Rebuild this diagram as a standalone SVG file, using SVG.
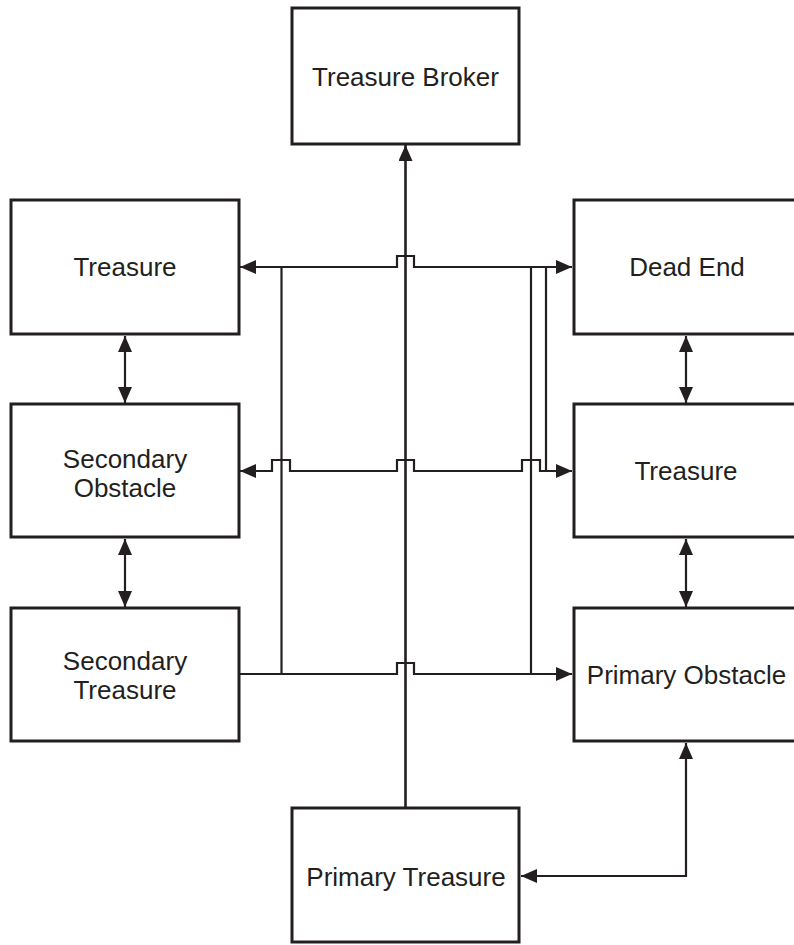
<svg xmlns="http://www.w3.org/2000/svg" width="794" height="945" viewBox="0 0 794 945">
<style>
.box{fill:#fff;stroke:#231f20;stroke-width:3}
.t{font-family:"Liberation Sans",Arial,sans-serif;font-size:26px;fill:#231f20;text-anchor:middle}
.c{fill:none;stroke:#231f20;stroke-width:2.2}
.m{fill:none;stroke:#231f20;stroke-width:2.6}
</style>
<defs>
<marker id="ah" viewBox="0 0 16 14" refX="16" refY="7" markerWidth="16" markerHeight="14" markerUnits="userSpaceOnUse" orient="auto-start-reverse">
<path d="M0,0 L16,7 L0,14 z" fill="#231f20"/>
</marker>
</defs>
<rect width="794" height="945" fill="#fff"/>
<g id="connectors">
<path class="m" d="M405.5,808 V145" marker-end="url(#ah)"/>
<path class="c" d="M240,267 H397 V256 H414 V267 H572" marker-start="url(#ah)" marker-end="url(#ah)"/>
<path class="c" d="M240,471 H272 V460 H290 V471 H397 V460 H414 V471 H522 V460 H540 V471 H572" marker-start="url(#ah)" marker-end="url(#ah)"/>
<path class="c" d="M240,674 H397 V663 H414 V674 H572" marker-end="url(#ah)"/>
<path class="c" d="M281.5,267 V674"/>
<path class="c" d="M531,267 V674"/>
<path class="c" d="M546,267 V471"/>
<path class="c" d="M125,336 V403" marker-start="url(#ah)" marker-end="url(#ah)"/>
<path class="c" d="M125,539 V607" marker-start="url(#ah)" marker-end="url(#ah)"/>
<path class="c" d="M686,336 V403" marker-start="url(#ah)" marker-end="url(#ah)"/>
<path class="c" d="M686,539 V607" marker-start="url(#ah)" marker-end="url(#ah)"/>
<path class="c" d="M686,743 V876 H521" marker-start="url(#ah)" marker-end="url(#ah)"/>
</g>
<g id="treasure-broker"><rect class="box" x="292" y="8" width="227" height="136"/><text class="t" x="405.5" y="86">Treasure Broker</text></g>
<g id="treasure-left"><rect class="box" x="11" y="200" width="228" height="134"/><text class="t" x="125" y="276">Treasure</text></g>
<g id="secondary-obstacle"><rect class="box" x="11" y="404" width="228" height="133"/><text class="t" x="125" y="468">Secondary</text><text class="t" x="125" y="497">Obstacle</text></g>
<g id="secondary-treasure"><rect class="box" x="11" y="608" width="228" height="133"/><text class="t" x="125" y="670">Secondary</text><text class="t" x="125" y="699">Treasure</text></g>
<g id="dead-end"><rect class="box" x="574" y="200" width="240" height="134"/><text class="t" x="687" y="276">Dead End</text></g>
<g id="treasure-right"><rect class="box" x="574" y="404" width="240" height="133"/><text class="t" x="686" y="480">Treasure</text></g>
<g id="primary-obstacle"><rect class="box" x="574" y="608" width="240" height="133"/><text class="t" x="686.5" y="684">Primary Obstacle</text></g>
<g id="primary-treasure"><rect class="box" x="292" y="808" width="227" height="134"/><text class="t" x="406" y="886">Primary Treasure</text></g>
</svg>
